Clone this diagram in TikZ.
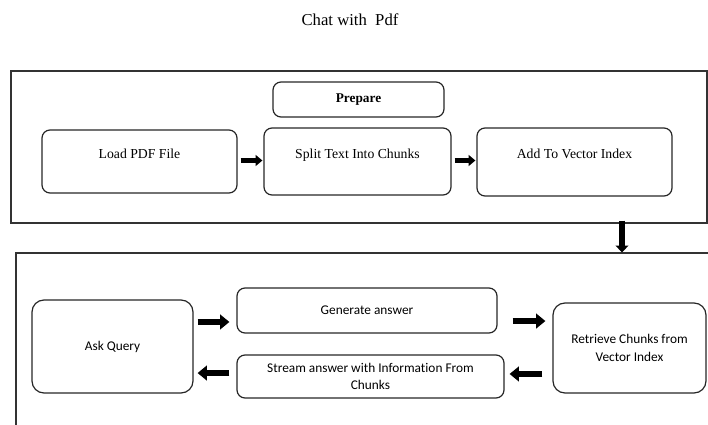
\documentclass[tikz,border=0pt]{standalone}
\usepackage{fontspec}
\setmainfont{Liberation Serif}
\newfontfamily\bodyfont[Ligatures=NoCommon]{Carlito}
\usetikzlibrary{arrows.meta}

\tikzset{
    frame/.style={draw=black!80, line width=1pt, inner sep=0pt},
    prepbox/.style={draw=black!85, line width=0.9pt, rounded corners=6pt, inner sep=0pt,
        text=black, font=\fontsize{10.3}{12}\selectfont, text height=7pt, text depth=11.6pt},
    querybox/.style={draw=black!85, line width=0.9pt, rounded corners=6pt, inner sep=0pt,
        align=center, text=black, font=\bodyfont\fontsize{10}{13.2}\selectfont},
    thinarrow/.style={line width=3.2pt, -{Triangle[width=8pt, length=5pt]}},
    fatarrow/.style={line width=4.8pt, -{Triangle[width=11pt, length=7pt]}},
}

\begin{document}
\begin{tikzpicture}[x=0.75pt, y=-0.75pt]
    \useasboundingbox (0,0) rectangle (708,425);
    \clip (0,0) rectangle (708,425);

    % Title
    \node[font=\fontsize{12.5}{14}\selectfont, text=black] (title) at (350,20) {Chat with\ \ Pdf};

    % Prepare
    \node[frame, minimum width=522pt, minimum height=114pt] (prepframe) at (359,147) {};
    \node[prepbox, font=\bfseries\fontsize{10}{12}\selectfont, text height=, text depth=,
        minimum width=128.25pt, minimum height=26.25pt] (prepare) at (358.5,99.5) {Prepare};
    \node[prepbox, minimum width=146.25pt, minimum height=47.25pt] (load) at (139.5,161.5) {Load PDF File};
    \node[prepbox, minimum width=140.25pt, minimum height=50.25pt] (split) at (357.5,161.5) {Split Text Into Chunks};
    \node[prepbox, minimum width=146.25pt, minimum height=51pt] (add) at (574.5,162) {Add To Vector Index};

    \draw[thinarrow, shorten <=2.25pt, shorten >=0.75pt] ([yshift=0.75pt]load.east) -- ([yshift=0.75pt]load.east -| split.west);
    \draw[thinarrow, shorten <=2.25pt, shorten >=0.75pt] ([yshift=0.75pt]split.east) -- ([yshift=0.75pt]split.east -| add.west);

    % Query
    \node[frame, minimum width=528pt, minimum height=140.25pt] (queryframe) at (368,346.5) {};
    \node[querybox, rounded corners=9pt, minimum width=120.75pt, minimum height=69.75pt] (ask) at (112.5,346.5) {Ask Query};
    \node[querybox, minimum width=195pt, minimum height=33.75pt] (generate) at (367,310.5) {Generate answer};
    \node[querybox, minimum width=200.25pt, minimum height=32.25pt] (stream) at (370.5,376.5) {Stream answer with Information From\\Chunks};
    \node[querybox, rounded corners=9pt, minimum width=114.75pt, minimum height=67.5pt] (retrieve) at (629.5,348) {Retrieve Chunks from\\Vector Index};

    % Prepare -> Query
    \coordinate (drop) at (622,240);
    \draw[line width=4.5pt, -{Triangle[width=9.5pt, length=5pt]}] (prepframe.south -| drop) ++(0,2.25pt) coordinate (dropstart)
        (dropstart) -- (queryframe.north -| drop);

    \coordinate (g1) at ([yshift=-8.6pt]generate.west);
    \draw[fatarrow, shorten <=3pt, shorten >=5.25pt] (ask.east |- g1) -- (g1);
    \coordinate (g2) at ([yshift=-7.9pt]generate.east);
    \draw[fatarrow, shorten <=11.25pt, shorten >=5.25pt] (g2) -- (g2 -| retrieve.west);
    \coordinate (s1) at ([yshift=1.9pt]stream.east);
    \draw[fatarrow, shorten <=7.5pt, shorten >=3.75pt] (s1 -| retrieve.west) -- (s1);
    \coordinate (s2) at ([yshift=2.6pt]stream.west);
    \draw[fatarrow, shorten <=5.25pt, shorten >=3pt] (s2) -- (s2 -| ask.east);
\end{tikzpicture}
\end{document}
